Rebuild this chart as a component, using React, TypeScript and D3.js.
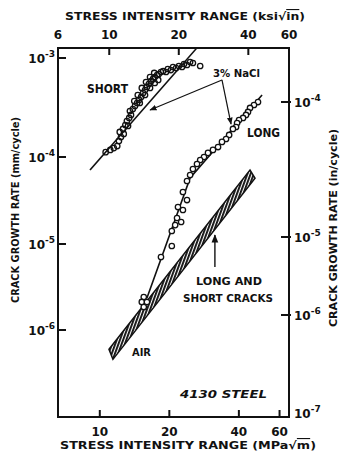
import React from 'react';
import * as d3 from 'd3';

// ---- data (ΔK in MPa√m, da/dN in mm/cycle) ----
const KSI_TO_MPA = 1.0988;
const bottomTicks = [10, 20, 40, 60];
const topTicksKsi = [10, 20, 40];
const topCornerKsi = [6, 60];
const leftTicks = [1e-3, 1e-4, 1e-5, 1e-6];
const rightTicks = [1e-4, 1e-5, 1e-6, 1e-7];

const shortCrack: [number, number][] = [
  [10.6, 1.12e-4], [11.1, 1.18e-4], [11.5, 1.23e-4], [11.9, 1.29e-4], [12.1, 1.45e-4],
  [12.35, 1.59e-4], [12.2, 1.79e-4], [12.7, 1.71e-4], [12.6, 1.92e-4], [12.9, 2.1e-4],
  [13.25, 2.06e-4], [13.1, 2.31e-4], [13.4, 2.48e-4], [13.65, 2.66e-4], [13.5, 2.91e-4],
  [13.9, 3.05e-4], [14.2, 3.27e-4], [14.5, 3.51e-4], [14.1, 3.68e-4], [14.8, 3.77e-4],
  [15.1, 4.04e-4], [14.6, 4.23e-4], [15.4, 4.43e-4], [15.7, 4.75e-4], [15.2, 4.98e-4],
  [16.0, 5.1e-4], [16.3, 5.46e-4], [15.85, 5.72e-4], [16.7, 5.86e-4], [17.0, 6.14e-4],
  [16.5, 6.43e-4], [17.3, 6.43e-4], [17.7, 6.73e-4], [17.2, 7.06e-4], [18.0, 6.89e-4],
  [18.4, 7.22e-4], [18.8, 7.39e-4], [19.35, 7.22e-4], [19.7, 7.74e-4], [20.3, 7.56e-4],
  [20.75, 8.11e-4], [21.4, 7.92e-4], [22.0, 8.3e-4], [22.7, 8.11e-4], [23.15, 8.7e-4],
  [23.85, 8.5e-4], [24.6, 9.11e-4], [25.3, 8.9e-4], [27.2, 8.3e-4],
  [16.5, 4.98e-4], [17.3, 5.59e-4], [17.9, 6.0e-4], [15.7, 4.23e-4], [14.9, 3.51e-4],
];

const longCrack: [number, number][] = [
  [48.4, 3.59e-4], [46.5, 3.35e-4], [44.7, 3.13e-4], [43.8, 2.85e-4], [42.95, 2.66e-4],
  [41.7, 2.48e-4], [40.05, 2.36e-4], [39.3, 2.2e-4], [38.9, 2.01e-4], [37.7, 1.92e-4],
  [36.3, 1.67e-4], [35.2, 1.52e-4], [33.8, 1.42e-4], [32.5, 1.26e-4], [30.9, 1.18e-4],
  [29.4, 1.1e-4], [28.25, 1.0e-4], [27.2, 9.24e-5], [26.35, 8.31e-5], [25.3, 7.28e-5],
  [24.6, 6.21e-5], [23.85, 5.3e-5], [22.9, 3.96e-5], [23.85, 3.2e-5], [21.8, 2.66e-5],
  [22.9, 2.46e-5], [21.6, 1.99e-5], [22.5, 1.79e-5], [21.2, 1.65e-5], [20.5, 1.41e-5],
  [20.5, 9.48e-6], [18.4, 7.06e-6], [15.5, 2.42e-6], [15.2, 2.12e-6], [16.0, 2.12e-6],
  [15.5, 1.85e-6],
];

const shortFit: [number, number][] = [[9.07, 7.1e-5], [26.3, 1.26e-3]];
const longFit: [number, number][] = [[16.0, 2.36e-6], [24.6, 5.74e-5], [50.4, 4.23e-4]];
const airUpper: [number, number][] = [[10.96, 6.0e-7], [44.7, 7.1e-5]];
const airLower: [number, number][] = [[11.4, 4.6e-7], [47.0, 5.7e-5]];

// annotation anchors (data units)
const naclVertex: [number, number] = [33.8, 6.0e-4];
const naclShortTip: [number, number] = [16.5, 2.98e-4];
const naclLongTip: [number, number] = [37.0, 2.15e-4];
const airArrow: [number, number][] = [[31.5, 5.4e-6], [31.5, 1.27e-5]];

const INK = '#111';
const FONT = 'DejaVu Sans, Verdana, sans-serif';

export default function App() {
  const W = 344, H = 460;
  const L = 58, R = 289, T = 48, B = 417;

  const x = d3.scaleLog().domain([6 * KSI_TO_MPA, 60 * KSI_TO_MPA]).range([L, R]);
  const y = d3.scaleLog().domain([...leftTicks, 1e-7]).range([58, 157, 244, 330, B]);
  const yR = d3.scaleLog().domain(rightTicks).range([102, 237, 315, B]);

  const line = d3.line<[number, number]>().x(d => x(d[0])).y(d => y(d[1]));
  const band = [...airUpper, ...airLower.slice().reverse()];
  const bandPath = line(band) + 'Z';
  const exp = (v: number) => String(Math.round(Math.log10(v)));

  const P = (d: [number, number]) => [x(d[0]), y(d[1])];
  const [vx, vy] = P(naclVertex);
  const [sx, sy] = P(naclShortTip);
  const [lx, ly] = P(naclLongTip);
  const [ax1, ay1] = P(airArrow[0]);
  const [ax2, ay2] = P(airArrow[1]);

  return (
    <svg width={W} height={H} style={{ position: 'absolute', left: 0, top: 0, background: '#fff' }}
      fontFamily={FONT} fontWeight="bold" fill={INK}>
      <defs>
        <clipPath id="plot"><rect x={L} y={T} width={R - L} height={B - T} /></clipPath>
        <pattern id="hatch" width="3" height="3" patternUnits="userSpaceOnUse" patternTransform="rotate(20)">
          <rect width="3" height="3" fill="#fff" />
          <rect width="1.9" height="3" fill={INK} />
        </pattern>
        <marker id="ah" viewBox="0 0 10 10" refX="9" refY="5" markerWidth="6" markerHeight="6" orient="auto">
          <path d="M0,1 L10,5 L0,9 z" fill={INK} />
        </marker>
      </defs>

      {/* frame */}
      <rect x={L} y={T} width={R - L} height={B - T} fill="none" stroke={INK} strokeWidth={2} />

      {/* bottom axis */}
      {bottomTicks.map(t => (
        <g key={'b' + t}>
          <line x1={x(t)} x2={x(t)} y1={B} y2={B - 7} stroke={INK} strokeWidth={2} />
          <text x={x(t)} y={436} textAnchor="middle" fontSize={12}>{t}</text>
        </g>
      ))}
      <text x={188} y={449} textAnchor="middle" fontSize={11} textLength={256} lengthAdjust="spacingAndGlyphs">
        STRESS INTENSITY RANGE (MPa√<tspan style={{ textDecoration: 'overline' }}>m</tspan>)
      </text>

      {/* top axis */}
      {topTicksKsi.map(t => (
        <g key={'t' + t}>
          <line x1={x(t * KSI_TO_MPA)} x2={x(t * KSI_TO_MPA)} y1={T} y2={T + 7} stroke={INK} strokeWidth={2} />
          <text x={x(t * KSI_TO_MPA)} y={39} textAnchor="middle" fontSize={12}>{t}</text>
        </g>
      ))}
      {topCornerKsi.map(t => (
        <text key={'tc' + t} x={x(t * KSI_TO_MPA)} y={39} textAnchor="middle" fontSize={12}>{t}</text>
      ))}
      <text x={185} y={20} textAnchor="middle" fontSize={11} textLength={240} lengthAdjust="spacingAndGlyphs">
        STRESS INTENSITY RANGE (ksi√<tspan style={{ textDecoration: 'overline' }}>in</tspan>)
      </text>

      {/* left axis */}
      {leftTicks.map(t => (
        <g key={'l' + t}>
          <line x1={L} x2={L + 8} y1={y(t)} y2={y(t)} stroke={INK} strokeWidth={2} />
          <text x={55} y={y(t) + 5} textAnchor="end" fontSize={12}>10<tspan dy={-6} fontSize={9}>{exp(t)}</tspan></text>
        </g>
      ))}
      <text transform="translate(19,210) rotate(-90)" textAnchor="middle" fontSize={10.5} textLength={186} lengthAdjust="spacingAndGlyphs">
        CRACK GROWTH RATE (mm/cycle)
      </text>

      {/* right axis */}
      {rightTicks.map((t, i) => (
        <g key={'r' + t}>
          {i < rightTicks.length - 1 && <line x1={R - 8} x2={R + 2} y1={yR(t)} y2={yR(t)} stroke={INK} strokeWidth={2} />}
          <text x={294} y={yR(t) + (i < rightTicks.length - 1 ? 5 : 1)} textAnchor="start" fontSize={12}>10<tspan dy={-6} fontSize={9}>{exp(t)}</tspan></text>
        </g>
      ))}
      <text transform="translate(337,228) rotate(-90)" textAnchor="middle" fontSize={10.5} textLength={198} lengthAdjust="spacingAndGlyphs">
        CRACK GROWTH RATE (in/cycle)
      </text>

      {/* data */}
      <g clipPath="url(#plot)">
        <path d={bandPath} fill="url(#hatch)" stroke={INK} strokeWidth={1.5} />
        <path d={line(shortFit) || ''} fill="none" stroke={INK} strokeWidth={1.6} />
        <path d={line(longFit) || ''} fill="none" stroke={INK} strokeWidth={1.6} />
        {shortCrack.map((d, i) => (
          <circle key={'s' + i} cx={x(d[0])} cy={y(d[1])} r={2.7} fill="none" stroke={INK} strokeWidth={1.3} />
        ))}
        {longCrack.map((d, i) => (
          <circle key={'g' + i} cx={x(d[0])} cy={y(d[1])} r={2.7} fill="#fff" stroke={INK} strokeWidth={1.3} />
        ))}
      </g>

      {/* annotations */}
      <line x1={vx} y1={vy} x2={sx} y2={sy} stroke={INK} strokeWidth={1.2} markerEnd="url(#ah)" />
      <line x1={vx} y1={vy} x2={lx} y2={ly} stroke={INK} strokeWidth={1.2} markerEnd="url(#ah)" />
      <line x1={ax1} y1={ay1} x2={ax2} y2={ay2} stroke={INK} strokeWidth={1.4} markerEnd="url(#ah)" />

      <text x={87} y={93} fontSize={12} textLength={41} lengthAdjust="spacingAndGlyphs">SHORT</text>
      <text x={213} y={77} fontSize={11} textLength={47} lengthAdjust="spacingAndGlyphs">3% NaCl</text>
      <text x={247} y={137} fontSize={12} textLength={33} lengthAdjust="spacingAndGlyphs">LONG</text>
      <text x={229} y={285} textAnchor="middle" fontSize={11} textLength={66} lengthAdjust="spacingAndGlyphs">LONG AND</text>
      <text x={228} y={302} textAnchor="middle" fontSize={11} textLength={90} lengthAdjust="spacingAndGlyphs">SHORT CRACKS</text>
      <text x={132} y={356} fontSize={11} textLength={19} lengthAdjust="spacingAndGlyphs">AIR</text>
      <text x={180} y={398} fontSize={11} fontStyle="italic" textLength={87} lengthAdjust="spacingAndGlyphs">4130 STEEL</text>
    </svg>
  );
}
